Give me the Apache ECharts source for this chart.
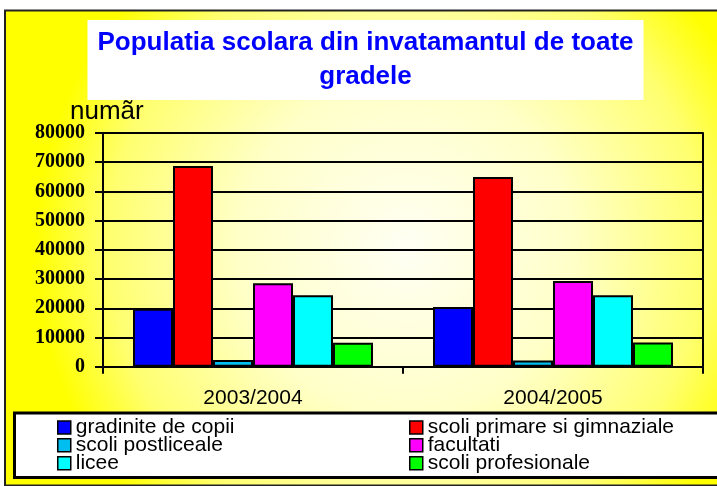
<!DOCTYPE html>
<html>
<head>
<meta charset="utf-8">
<script src="https://cdn.jsdelivr.net/npm/echarts@6/dist/echarts.min.js"></script>
<style>
  html, body { margin: 0; padding: 0; background: #fff; }
  #main { width: 717px; height: 486px; }
</style>
</head>
<body>
<div id="main"></div>
<script>
// ani scolari
var years = ['2003/2004', '2004/2005'];

// numar elevi / studenti pe tip de unitate
var gradinite = [19800, 20400];
var primare = [68700, 64900];
var postliceale = [2300, 2100];
var facultati = [28600, 29300];
var licee = [24500, 24500];
var profesionale = [8200, 8300];

var yTicks = [0, 10000, 20000, 30000, 40000, 50000, 60000, 70000, 80000];

var names = [
  'gradinite de copii',
  'scoli primare si gimnaziale',
  'scoli postliceale',
  'facultati',
  'licee',
  'scoli profesionale'
];
var values = [gradinite, primare, postliceale, facultati, licee, profesionale];
var colors = ['#0000FF', '#FF0000', '#00BFF0', '#FF00FF', '#00FFFF', '#00FF00'];

var chart = echarts.init(document.getElementById('main'));

var series = names.map(function (n, i) {
  return {
    name: n,
    type: 'bar',
    data: values[i],
    barGap: 0,
    barCategoryGap: '20%',
    itemStyle: { color: colors[i], borderColor: '#000', borderWidth: 2 },
    z: 3
  };
});

// legenda: 2 coloane x 3 randuri, cate o legenda pe element
var rowTops = [422, 439.7, 457.7];
var legends = names.map(function (n, i) {
  var col = i % 2, row = Math.floor(i / 2);
  return {
    data: [n],
    left: col ? 409 : 57,
    top: rowTops[row] - 5,
    itemWidth: 13,
    itemHeight: 13,
    itemGap: 6,
    icon: 'rect',
    padding: 0,
    itemStyle: { borderColor: '#000', borderWidth: 1.5 },
    textStyle: { fontFamily: 'Liberation Sans, Arial', fontSize: 21, color: '#000' },
    selectedMode: false,
    z: 4
  };
});

var option = {
  backgroundColor: '#fff',
  animation: false,
  title: {
    text: 'Populatia scolara din invatamantul de toate\ngradele',
    left: 355.5,
    top: 20,
    textAlign: 'center',
    backgroundColor: '#fff',
    padding: [6, 10, 6, 10],
    textStyle: {
      fontFamily: 'Liberation Sans, Arial',
      fontSize: 26,
      fontWeight: 'bold',
      color: '#0000FF',
      lineHeight: 34
    }
  },
  graphic: [
    {
      type: 'rect',
      z: -10,
      silent: true,
      shape: { x: 5, y: 10.5, width: 730, height: 475 },
      style: {
        fill: new echarts.graphic.RadialGradient(0.55, 0.5, 0.78, [
          { offset: 0, color: '#FFFFF4' },
          { offset: 0.45, color: '#FFFFC8' },
          { offset: 0.8, color: '#FFFF70' },
          { offset: 1, color: '#FFFF00' }
        ]),
        stroke: '#222',
        lineWidth: 2
      }
    },
    {
      type: 'rect',
      z: 1,
      silent: true,
      shape: { x: 14.5, y: 413, width: 720, height: 64.5 },
      style: { fill: '#fff', stroke: '#000', lineWidth: 3 }
    },
    {
      type: 'text',
      z: 10,
      left: 70,
      top: 99,
      style: {
        text: 'numãr',
        fontFamily: 'Liberation Sans, Arial',
        fontSize: 26,
        fill: '#000'
      }
    }
  ],
  legend: legends,
  grid: { left: 103, right: 14, top: 133, bottom: 119.3, containLabel: false },
  xAxis: {
    type: 'category',
    data: years,
    axisLine: { lineStyle: { color: '#000', width: 2 } },
    axisTick: { show: true, length: 7, lineStyle: { color: '#000', width: 2 } },
    axisLabel: {
      margin: 21,
      fontFamily: 'Liberation Sans, Arial',
      fontSize: 21,
      color: '#000'
    },
    splitLine: { show: false }
  },
  yAxis: [
    {
      type: 'value',
      min: yTicks[0],
      max: yTicks[yTicks.length - 1],
      interval: yTicks[1] - yTicks[0],
      axisLine: { show: true, lineStyle: { color: '#000', width: 2 } },
      axisTick: { show: true, length: 8, lineStyle: { color: '#000', width: 2 } },
      axisLabel: {
        margin: 18,
        fontFamily: 'Liberation Serif, Times New Roman, serif',
        fontWeight: 'bold',
        fontSize: 20,
        color: '#000',
        formatter: function (v) { return String(v); }
      },
      splitLine: { show: true, lineStyle: { color: '#000', width: 2 } }
    },
    {
      type: 'value',
      position: 'right',
      min: yTicks[0],
      max: yTicks[yTicks.length - 1],
      interval: yTicks[1] - yTicks[0],
      axisLine: { show: true, lineStyle: { color: '#000', width: 2 } },
      axisTick: { show: false },
      axisLabel: { show: false },
      splitLine: { show: false }
    }
  ],
  series: series
};

chart.setOption(option);
</script>
</body>
</html>
